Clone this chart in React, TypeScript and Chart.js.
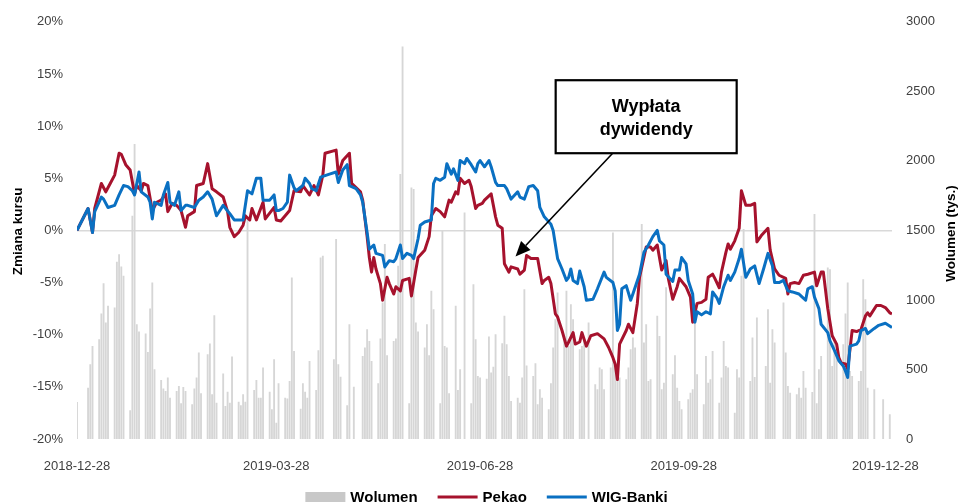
import React, { useEffect, useRef } from 'react';
import { Chart, registerables } from 'chart.js';

Chart.register(...registerables);

const FONT = 'Arial, "Liberation Sans", sans-serif';

// x axis: days since 2018-12-28
const X_MAX = 368;
const tickDays = [0, 90, 182, 274, 365];
const tickLabels = ['2018-12-28', '2019-03-28', '2019-06-28', '2019-09-28', '2019-12-28'];
const holidays = [
  '2018-12-31', '2019-01-01', '2019-04-19', '2019-04-22', '2019-05-01', '2019-05-03',
  '2019-06-20', '2019-08-15', '2019-11-01', '2019-11-11', '2019-12-24', '2019-12-25',
  '2019-12-26', '2019-12-31',
];

// Wolumen (tys.), one value per trading day
const volumes = [
  263,
  367, 535, 667,
  715, 900, 1118, 835, 955,
  943, 1272, 1327, 1238, 1171,
  204, 1603, 2119, 823, 770,
  756, 624, 936, 1123, 499,
  422, 360, 343, 439, 295,
  343, 379, 254, 372, 343,
  247, 360, 439, 619, 326,
  607, 684, 319, 888, 259,
  468, 235, 338, 259, 590,
  266, 240, 319, 266, 1578,
  350, 422, 295, 295, 511,
  338, 211, 571, 115, 398,
  295, 288, 415, 1159, 631,
  216, 398, 338, 295, 559,
  350, 636, 1303, 1315,
  571, 1435, 535, 446,
  240, 823, 374,
  595, 655, 787, 703, 559,
  398, 720, 979, 1399, 600,
  703, 720, 1243, 1903, 2820,
  254, 1807, 1795, 835, 770,
  655, 823, 600, 1063, 931,
  254, 1495, 667, 655, 326,
  955, 350, 500, 1627,
  254, 1111, 715, 451, 439,
  431, 734, 475, 518, 751,
  686, 883, 679, 451, 271,
  295, 259, 439, 1075, 527,
  451, 542, 247, 355, 295,
  211, 398, 655, 859, 1051,
  715, 1063, 667, 967, 859,
  643, 667, 715, 835,
  391, 355, 511, 499, 355,
  511, 1483, 511, 499, 439,
  427, 511, 643, 727, 655,
  1543, 691, 823, 415, 427,
  883, 739, 355, 403, 1089,
  463, 600, 367, 271, 211,
  283, 331, 355, 847, 463,
  247, 595, 403, 427, 631,
  259, 439, 703, 523, 511,
  187, 499, 439, 1171, 1507,
  415, 727, 443, 871,
  523, 931, 403, 787, 691,
  979, 619, 379, 331,
  319, 367, 295, 487, 367,
  335, 1615, 255, 499, 595,
  1231, 1219, 523, 715, 600,
  679, 900, 1123, 487, 451,
  415, 487, 1147, 1003, 367,
  355, 283,
  175,
];

// Pekao: change vs 2018-12-28 (%)
const pekaoDays = [
  0, 5, 7, 8, 11, 13, 15, 17, 19, 20, 22, 24, 26, 27, 29, 30, 32, 34, 36, 38, 40, 41, 43, 45, 47, 49, 50, 53, 54, 57,
  59, 61, 63, 66, 68, 69, 71, 73, 75, 76, 78, 79, 81, 84, 85, 89, 90, 92, 96, 98, 101, 102, 105, 107, 109, 111, 112, 117, 118, 120,
  123, 124, 128, 129, 131, 132, 133, 134, 135, 137, 138, 140, 141, 143, 144, 146, 147, 150, 151, 153, 154, 157, 159, 160, 162, 164, 166, 168, 169, 171,
  172, 173, 175, 177, 178, 180, 181, 183, 184, 187, 189, 190, 192, 193, 195, 196, 199, 200, 202, 203, 205, 208, 210, 211, 213, 214, 216, 217, 219, 221,
  222, 224, 225, 227, 228, 230, 232, 235, 238, 240, 242, 243, 244, 245, 248, 249, 251, 253, 254, 257, 259, 260, 262, 264, 266, 267, 269, 271, 272, 275,
  277, 278, 280, 282, 284, 285, 287, 288, 290, 291, 293, 294, 295, 297, 299, 300, 302, 304, 306, 307, 309, 312, 313, 315, 317, 320, 321, 322, 324, 326,
  328, 330, 333, 334, 336, 337, 339, 341, 343, 344, 345, 347, 348, 350, 352, 354, 356, 357, 358, 361, 363, 365, 367, 368,
];
const pekao = [
  0, 2.1, -0.2, 2.1, 4.5, 3.7, 4.5, 5.3, 7.4, 7.3, 6.3, 5.8, 3.5, 4.3, 3.8, 4.5, 4.3, 1.9, 2.7, 2.9, 3.5, 1.8, 2.6, 2.4, 1.9, 0.3, 1.4, 1.8, 4.3, 4.5,
  6.4, 4.0, 3.7, 3.2, 1.8, 0.3, -0.6, -0.2, 0.5, 1.4, 1.0, 2.1, 1.0, 2.7, 1.1, 2.2, 1.0, 0.9, 1.9, 3.8, 3.7, 4.3, 3.4, 4.3, 3.4, 5.3, 7.4, 7.7, 5.4, 6.7,
  7.4, 4.5, 3.7, 2.9, -0.6, -2.6, -4.0, -2.6, -3.7, -5.1, -6.7, -4.5, -5.1, -6.1, -5.4, -5.8, -4.8, -4.6, -6.3, -3.8, -2.6, -1.9, -0.6, 1.4, 2.1, 1.8, 1.3, 2.9, 2.7, 3.7,
  3.5, 5.0, 4.5, 4.8, 4.2, 2.1, 2.4, 2.6, 2.9, 3.5, 1.3, 0.5, 0.2, -3.2, -4.0, -3.5, -3.7, -4.2, -3.8, -2.4, -2.7, -2.7, -5.1, -4.8, -4.5, -5.1, -8.0, -8.3, -9.6, -11.1,
  -10.7, -9.8, -10.9, -10.7, -9.8, -11.1, -10.1, -9.9, -10.4, -11.2, -12.2, -12.8, -14.3, -10.9, -9.6, -9.0, -9.8, -7.0, -4.5, -1.6, -1.6, -1.9, -1.4, -3.8, -2.9, -4.6, -6.6, -5.4, -4.6, -5.4,
  -6.4, -8.8, -7.0, -6.9, -6.6, -4.5, -4.2, -4.6, -5.5, -4.0, -2.1, -1.3, -1.8, -1.0, 0.2, 3.8, 2.4, 2.4, 2.6, -1.1, -0.5, 0.2, -1.9, -3.7, -4.3, -4.6, -6.1, -5.1, -5.0, -5.1,
  -4.3, -4.2, -4.0, -5.3, -4.0, -4.0, -7.5, -10.1, -10.9, -12.2, -12.7, -12.8, -13.3, -9.6, -9.7, -9.5, -8.2, -7.9, -8.2, -7.2, -7.2, -7.4, -7.9, -8.0,
];

// WIG-Banki: change vs 2018-12-28 (%)
const wigDays = [
  0, 5, 7, 8, 11, 12, 14, 17, 19, 21, 23, 25, 26, 28, 29, 32, 33, 34, 35, 38, 39, 41, 42, 44, 46, 47, 49, 50, 53, 55,
  57, 59, 61, 63, 66, 69, 71, 75, 77, 79, 81, 83, 84, 87, 89, 90, 91, 93, 95, 96, 98, 99, 102, 103, 105, 106, 108, 110, 114, 117,
  118, 120, 122, 123, 126, 128, 129, 131, 132, 134, 135, 138, 139, 141, 143, 144, 146, 147, 149, 151, 152, 154, 155, 157, 160, 161, 162, 164, 166, 167,
  169, 170, 172, 173, 175, 176, 178, 180, 181, 182, 184, 186, 187, 189, 190, 193, 194, 196, 199, 200, 202, 204, 206, 208, 209, 211, 214, 215, 217, 219,
  221, 222, 223, 224, 226, 227, 229, 230, 233, 235, 238, 239, 242, 243, 244, 245, 246, 248, 250, 251, 254, 256, 258, 260, 262, 263, 265, 266, 269, 270,
  272, 273, 275, 276, 278, 279, 280, 282, 284, 286, 287, 289, 290, 292, 294, 295, 297, 299, 300, 302, 304, 306, 308, 310, 312, 314, 315, 317, 319, 321,
  323, 326, 327, 329, 330, 332, 333, 335, 336, 339, 340, 342, 344, 346, 347, 348, 349, 352, 353, 354, 356, 357, 360, 362, 365, 368,
];
const wig = [
  0, 2.1, -0.2, 1.8, 3.2, 3.0, 2.2, 2.4, 3.4, 4.3, 4.2, 3.8, 3.4, 5.6, 3.7, 3.2, 2.7, 1.1, 2.7, 2.4, 3.4, 4.6, 2.7, 2.4, 3.7, 1.9, 2.4, 2.4, 2.2, 2.9,
  3.2, 3.7, 3.0, 1.4, 2.4, 1.6, 1.0, 1.0, 3.8, 3.5, 5.0, 5.0, 2.9, 2.9, 3.4, 1.9, 1.9, 2.1, 2.7, 5.3, 4.1, 3.8, 4.3, 5.0, 4.5, 4.0, 3.8, 5.1, 5.4, 5.6,
  4.6, 5.8, 6.3, 4.3, 4.0, 3.4, 2.7, -0.2, -1.8, -1.4, -2.2, -2.4, -3.5, -2.9, -3.0, -2.7, -1.4, -2.7, -2.2, -2.4, -2.7, -0.8, 0.5, 0.8, 1.0, 4.5, 5.0, 4.8, 5.1, 6.4,
  5.4, 5.9, 4.8, 6.7, 6.4, 6.9, 6.3, 5.6, 6.4, 6.7, 6.1, 6.7, 6.1, 4.6, 4.3, 4.3, 4.0, 3.0, 3.7, 3.2, 3.0, 4.2, 4.3, 3.8, 2.2, 1.3, 0.6, 0, -2.7, -3.7,
  -4.8, -4.5, -3.7, -4.8, -5.1, -3.9, -5.4, -6.7, -6.6, -5.6, -4.0, -4.5, -5.0, -5.8, -9.6, -9.0, -5.6, -5.3, -6.7, -6.1, -4.2, -2.1, -1.4, -0.6, 0, -1.0, -1.4, -4.2, -4.9, -3.8,
  -3.8, -2.6, -3.2, -4.8, -6.1, -8.8, -7.8, -8.1, -7.8, -8.0, -5.9, -6.5, -7.0, -5.4, -4.3, -4.8, -4.0, -2.7, -1.8, -4.5, -3.7, -3.4, -5.1, -3.7, -2.2, -3.4, -5.0, -5.0, -4.8, -5.8,
  -5.9, -6.1, -6.3, -6.7, -5.6, -5.4, -6.4, -7.5, -9.0, -9.8, -10.6, -11.5, -12.5, -13.0, -13.5, -14.1, -11.1, -10.9, -10.6, -9.6, -9.4, -9.9, -9.4, -9.1, -8.9, -9.3,
];

// annotation anchors (data units)
const arrowTip = { day: 198, value: -2.5 };
const noteBox = { day: 257, value: 10.9 };
const noteLines = ['Wypłata', 'dywidendy'];

const COLOR_BAR = '#d6d6d6';
const COLOR_PEKAO = '#a6122d';
const COLOR_WIG = '#0a70c2';

const legendItems = [
  { label: 'Wolumen', kind: 'rect', color: '#c8c8c8' },
  { label: 'Pekao', kind: 'line', color: COLOR_PEKAO },
  { label: 'WIG-Banki', kind: 'line', color: COLOR_WIG },
];

function tradingDays(): number[] {
  const start = Date.UTC(2018, 11, 28);
  const out: number[] = [];
  for (let d = 0; d <= X_MAX; d++) {
    const dt = new Date(start + d * 86400000);
    const wd = dt.getUTCDay();
    if (wd === 0 || wd === 6) continue;
    if (holidays.includes(dt.toISOString().slice(0, 10))) continue;
    out.push(d);
  }
  return out;
}

const overlayPlugin = {
  id: 'overlay',
  afterDatasetsDraw(chart: any) {
    const { ctx } = chart;
    const x = chart.scales.x;
    const y = chart.scales.y;
    const tipX = x.getPixelForValue(arrowTip.day);
    const tipY = y.getPixelForValue(arrowTip.value);
    const bx = x.getPixelForValue(noteBox.day);
    const by = y.getPixelForValue(noteBox.value);
    const bw = 181;
    const bh = 73;
    const sx = bx - 33.5;
    const sy = by + bh / 2;
    ctx.save();
    const ang = Math.atan2(tipY - sy, tipX - sx);
    const headLen = 15;
    const headW = 6.5;
    const baseX = tipX - headLen * Math.cos(ang);
    const baseY = tipY - headLen * Math.sin(ang);
    ctx.strokeStyle = '#000';
    ctx.lineWidth = 1.6;
    ctx.beginPath();
    ctx.moveTo(sx, sy);
    ctx.lineTo(baseX, baseY);
    ctx.stroke();
    ctx.beginPath();
    ctx.moveTo(tipX, tipY);
    ctx.lineTo(baseX + headW * Math.sin(ang), baseY - headW * Math.cos(ang));
    ctx.lineTo(baseX - headW * Math.sin(ang), baseY + headW * Math.cos(ang));
    ctx.closePath();
    ctx.fillStyle = '#000';
    ctx.fill();
    ctx.fillStyle = '#fff';
    ctx.fillRect(bx - bw / 2, by - bh / 2, bw, bh);
    ctx.lineWidth = 2.2;
    ctx.strokeRect(bx - bw / 2, by - bh / 2, bw, bh);
    ctx.fillStyle = '#000';
    ctx.font = `bold 18px ${FONT}`;
    ctx.textAlign = 'center';
    ctx.textBaseline = 'alphabetic';
    ctx.fillText(noteLines[0], bx, by - 5);
    ctx.fillText(noteLines[1], bx, by + 18.5);
    ctx.restore();
  },
  afterDraw(chart: any) {
    const { ctx } = chart;
    ctx.save();
    // axis titles
    ctx.fillStyle = '#000';
    ctx.font = `bold 13.5px ${FONT}`;
    ctx.textAlign = 'center';
    ctx.textBaseline = 'middle';
    const midY = (chart.chartArea.top + chart.chartArea.bottom) / 2;
    ctx.save();
    ctx.translate(18, midY + 1);
    ctx.rotate(-Math.PI / 2);
    ctx.fillText('Zmiana kursu', 0, 0);
    ctx.restore();
    ctx.save();
    ctx.translate(951, midY + 3);
    ctx.rotate(-Math.PI / 2);
    ctx.fillText('Wolumen (tys.)', 0, 0);
    ctx.restore();
    // legend
    ctx.font = `bold 15px ${FONT}`;
    const sample = 40;
    const gap = 5;
    const spacing = 20;
    const widths = legendItems.map((it) => sample + gap + ctx.measureText(it.label).width);
    const total = widths.reduce((a, b) => a + b, 0) + spacing * (legendItems.length - 1);
    let lx = 486.5 - total / 2;
    const ly = 497;
    ctx.textAlign = 'left';
    ctx.textBaseline = 'alphabetic';
    legendItems.forEach((it, i) => {
      if (it.kind === 'rect') {
        ctx.fillStyle = it.color;
        ctx.fillRect(lx, ly - 5, sample, 10);
      } else {
        ctx.strokeStyle = it.color;
        ctx.lineWidth = 3;
        ctx.beginPath();
        ctx.moveTo(lx, ly);
        ctx.lineTo(lx + sample, ly);
        ctx.stroke();
      }
      ctx.fillStyle = '#000';
      ctx.fillText(it.label, lx + sample + gap, 502);
      lx += widths[i] + spacing;
    });
    ctx.restore();
  },
};

export default function App() {
  const canvasRef = useRef<HTMLCanvasElement | null>(null);

  useEffect(() => {
    if (!canvasRef.current) return;
    Chart.defaults.font.family = FONT;
    const days = tradingDays();
    const barData = volumes.slice(0, days.length).map((v, i) => ({ x: days[i], y: v }));
    const pekaoData = pekaoDays.map((d, i) => ({ x: d, y: pekao[i] }));
    const wigData = wigDays.map((d, i) => ({ x: d, y: wig[i] }));

    const chart = new Chart(canvasRef.current, {
      type: 'bar',
      data: {
        datasets: [
          {
            type: 'line',
            label: 'WIG-Banki',
            data: wigData,
            yAxisID: 'y',
            borderColor: COLOR_WIG,
            borderWidth: 3,
            pointRadius: 0,
            tension: 0,
            borderJoinStyle: 'round',
            order: 1,
          },
          {
            type: 'line',
            label: 'Pekao',
            data: pekaoData,
            yAxisID: 'y',
            borderColor: COLOR_PEKAO,
            borderWidth: 3,
            pointRadius: 0,
            tension: 0,
            borderJoinStyle: 'round',
            order: 2,
          },
          {
            type: 'bar',
            label: 'Wolumen',
            data: barData,
            yAxisID: 'y1',
            backgroundColor: COLOR_BAR,
            barThickness: 1.2,
            order: 3,
          },
        ],
      } as any,
      options: {
        animation: false,
        responsive: true,
        maintainAspectRatio: false,
        layout: { padding: { top: 21, bottom: 30, left: 0, right: 0 } },
        plugins: { legend: { display: false }, tooltip: { enabled: false } },
        scales: {
          x: {
            type: 'linear',
            min: 0,
            max: X_MAX,
            offset: false,
            grid: { display: false },
            border: { display: false },
            afterBuildTicks: (s: any) => {
              s.ticks = tickDays.map((v) => ({ value: v }));
            },
            afterFit: (s: any) => {
              s.height = 34;
            },
            ticks: {
              autoSkip: false,
              maxRotation: 0,
              padding: 12,
              color: '#404040',
              font: { size: 13 },
              callback: (v: any) => {
                const i = tickDays.indexOf(Number(v));
                return i >= 0 ? tickLabels[i] : '';
              },
            },
          },
          y: {
            type: 'linear',
            position: 'left',
            min: -20,
            max: 20,
            border: { display: false },
            grid: {
              drawTicks: false,
              lineWidth: 1.5,
              color: (c: any) => (c.tick && c.tick.value === 0 ? '#d9d9d9' : 'rgba(0,0,0,0)'),
            },
            afterFit: (s: any) => {
              s.width = 77;
            },
            ticks: {
              stepSize: 5,
              padding: 14,
              color: '#404040',
              font: { size: 13 },
              callback: (v: any) => `${v}%`,
            },
          },
          y1: {
            type: 'linear',
            position: 'right',
            min: 0,
            max: 3000,
            border: { display: false },
            grid: { display: false, drawTicks: false },
            afterFit: (s: any) => {
              s.width = 66;
            },
            ticks: {
              stepSize: 500,
              padding: 14,
              color: '#404040',
              font: { size: 13 },
              callback: (v: any) => String(v),
            },
          },
        },
      } as any,
      plugins: [overlayPlugin],
    });
    return () => chart.destroy();
  }, []);

  return (
    <div style={{ position: 'fixed', left: 0, top: 0, width: 958, height: 503, background: '#fff' }}>
      <canvas ref={canvasRef} />
    </div>
  );
}
